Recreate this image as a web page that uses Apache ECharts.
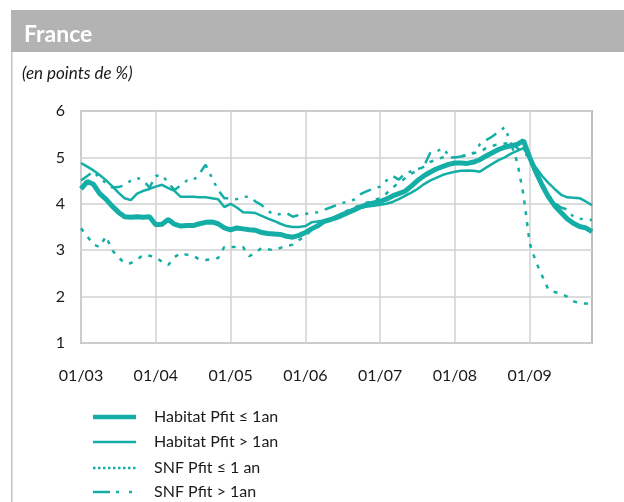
<!DOCTYPE html>
<html>
<head>
<meta charset="utf-8">
<script src="https://cdn.jsdelivr.net/npm/echarts@6/dist/echarts.min.js"></script>
<style>
  html, body { margin: 0; padding: 0; background: #ffffff; }
  #chart { width: 624px; height: 502px; }
</style>
</head>
<body>
<div id="chart"></div>
<script>
// Monthly observations, January 2003 to November 2009
const years = ['03', '04', '05', '06', '07', '08', '09'];
const months = ['01','02','03','04','05','06','07','08','09','10','11','12'];
const categories = [];
years.forEach(y => months.forEach(m => categories.push(m + '/' + y)));
categories.length = 83;

const seriesNames = ['Habitat Pfit \u2264 1an', 'Habitat Pfit > 1an', 'SNF Pfit \u2264 1 an', 'SNF Pfit > 1an'];

const habitatLe1 = [
  4.32, 4.48, 4.42, 4.22, 4.10, 3.95, 3.82, 3.72, 3.71, 3.72, 3.71, 3.72,
  3.55, 3.56, 3.66, 3.56, 3.52, 3.53, 3.53, 3.57, 3.60, 3.61, 3.57, 3.48,
  3.44, 3.48, 3.46, 3.44, 3.43, 3.38, 3.36, 3.35, 3.34, 3.30, 3.28, 3.32,
  3.38, 3.46, 3.53, 3.62, 3.66, 3.70, 3.76, 3.82, 3.88, 3.94, 3.99, 4.02,
  4.05, 4.10, 4.17, 4.22, 4.27, 4.38, 4.50, 4.60, 4.68, 4.75, 4.80, 4.85,
  4.88, 4.88, 4.87, 4.90, 4.95, 5.03, 5.10, 5.17, 5.22, 5.25, 5.28, 5.36,
  5.00, 4.68, 4.40, 4.15, 3.96, 3.82, 3.68, 3.58, 3.51, 3.48, 3.40
];

const habitatGt1 = [
  4.88, 4.80, 4.72, 4.62, 4.51, 4.38, 4.24, 4.12, 4.08, 4.22, 4.28, 4.32,
  4.37, 4.41, 4.34, 4.28, 4.15, 4.15, 4.15, 4.14, 4.14, 4.12, 4.10, 3.93,
  4.00, 3.92, 3.82, 3.81, 3.80, 3.74, 3.68, 3.63, 3.57, 3.52, 3.50, 3.50,
  3.52, 3.60, 3.62, 3.64, 3.66, 3.74, 3.80, 3.85, 3.89, 3.92, 3.94, 3.96,
  3.98, 4.00, 4.04, 4.10, 4.17, 4.24, 4.32, 4.42, 4.50, 4.56, 4.62, 4.66,
  4.69, 4.71, 4.72, 4.71, 4.69, 4.78, 4.86, 4.94, 5.00, 5.08, 5.14, 5.20,
  4.98, 4.78, 4.60, 4.45, 4.32, 4.20, 4.14, 4.13, 4.12, 4.05, 3.97
];

const snfLe1 = [
  3.47, 3.30, 3.12, 3.07, 3.30, 3.00, 2.85, 2.72, 2.72, 2.80, 2.90, 2.88,
  2.85, 2.75, 2.68, 2.85, 2.94, 2.90, 2.88, 2.80, 2.79, 2.81, 2.83, 3.07,
  3.07, 3.07, 3.07, 2.87, 2.95, 3.05, 3.02, 3.00, 3.05, 3.09, 3.12, 3.22,
  3.30, 3.44, 3.50, 3.58, 3.65, 3.72, 3.80, 3.87, 3.93, 3.98, 4.03, 4.08,
  4.12, 4.22, 4.35, 4.45, 4.55, 4.65, 4.72, 4.80, 4.90, 4.95, 5.00, 5.00,
  5.00, 5.02, 5.05, 5.09, 5.12, 5.20, 5.25, 5.28, 5.30, 5.30, 4.90, 4.20,
  3.15, 2.75, 2.45, 2.15, 2.10, 2.06, 2.00, 1.90, 1.86, 1.85, 1.84
];

const snfGt1 = [
  4.50, 4.60, 4.70, 4.55, 4.45, 4.35, 4.36, 4.40, 4.50, 4.56, 4.50, 4.35,
  4.60, 4.62, 4.45, 4.30, 4.40, 4.50, 4.50, 4.65, 4.84, 4.56, 4.30, 4.12,
  4.12, 4.10, 4.15, 4.15, 4.05, 3.97, 3.85, 3.76, 3.78, 3.80, 3.72, 3.76,
  3.78, 3.80, 3.82, 3.87, 3.92, 3.97, 4.02, 4.05, 4.10, 4.22, 4.28, 4.33,
  4.37, 4.50, 4.60, 4.52, 4.66, 4.70, 4.74, 4.80, 5.09, 5.12, 5.20, 5.05,
  5.00, 5.02, 5.06, 5.10, 5.28, 5.37, 5.45, 5.55, 5.65, 5.30, 5.20, 5.10,
  5.00, 4.72, 4.45, 4.20, 4.02, 3.92, 3.88, 3.72, 3.68, 3.66, 3.65
];

const teal = '#14aea6';
const fontFamily = 'Lato, "Open Sans", sans-serif';

// Line styles shared by the plotted series and the legend keys
const styles = [
  { width: 5, dash: null, legendDash: null },
  { width: 2.5, dash: null, legendDash: null },
  { width: 2.5, dash: [4, 7], legendDash: [2.5, 2.5] },
  { width: 2.5, dash: [12, 7, 3, 7, 3, 7], legendDash: [17, 6, 3, 10, 3, 10] }
];

// Hand-drawn legend block below the plot
const legendGraphics = [];
seriesNames.forEach((name, i) => {
  const y = [417, 442, 468, 492][i];
  legendGraphics.push({
    type: 'line', z: 5,
    shape: { x1: 93, y1: y, x2: 136, y2: y },
    style: { stroke: teal, lineWidth: i === 0 ? 4.5 : styles[i].width, lineDash: styles[i].legendDash }
  });
  legendGraphics.push({
    type: 'text', z: 5, x: 154, y: y,
    style: { text: name, fill: '#1a1a1a', font: '16px ' + fontFamily, textVerticalAlign: 'middle', verticalAlign: 'middle' }
  });
});

const chart = echarts.init(document.getElementById('chart'), null, { renderer: 'canvas' });

const seriesOrder = [2, 3, 1, 0];
const seriesData = [habitatLe1, habitatGt1, snfLe1, snfGt1];

chart.setOption({
  animation: false,
  backgroundColor: '#ffffff',
  textStyle: { fontFamily: fontFamily },
  graphic: [
    { type: 'rect', left: 11, top: 10, shape: { width: 613, height: 42 }, style: { fill: '#b3b3b3' }, z: 0 },
    { type: 'rect', left: 11, top: 52, shape: { width: 1.5, height: 450 }, style: { fill: '#c4c4c4' }, z: 0 },
    { type: 'text', left: 24, top: 23, style: { text: 'France', fill: '#ffffff', font: 'bold 23px ' + fontFamily }, z: 1 },
    { type: 'text', left: 22, top: 65, style: { text: '(en points de %)', fill: '#1a1a1a', font: 'italic 17px ' + fontFamily }, z: 1 }
  ].concat(legendGraphics),
  grid: {
    left: 81, right: 32, top: 111, bottom: 159,
    show: true, borderColor: '#bdbdbd', borderWidth: 2, backgroundColor: 'transparent'
  },
  xAxis: {
    type: 'category',
    data: categories,
    boundaryGap: false,
    axisLine: { show: false },
    axisTick: { show: false },
    axisLabel: { interval: 11, margin: 25, fontSize: 16, color: '#1a1a1a', fontFamily: fontFamily },
    splitLine: { show: true, interval: 11, lineStyle: { color: '#d2d2d2', width: 1.5 } }
  },
  yAxis: {
    type: 'value',
    min: 1, max: 6, interval: 1,
    axisLine: { show: false },
    axisTick: { show: false },
    axisLabel: { margin: 16, fontSize: 16, color: '#1a1a1a', fontFamily: fontFamily },
    splitLine: { show: true, lineStyle: { color: '#d2d2d2', width: 1.5 } }
  },
  series: seriesOrder.map(i => ({
    name: seriesNames[i],
    type: 'line',
    data: seriesData[i],
    symbol: 'none',
    z: 2 + (3 - i),
    lineStyle: { color: teal, width: styles[i].width, type: styles[i].dash || 'solid' },
    itemStyle: { color: teal }
  }))
});
</script>
</body>
</html>
